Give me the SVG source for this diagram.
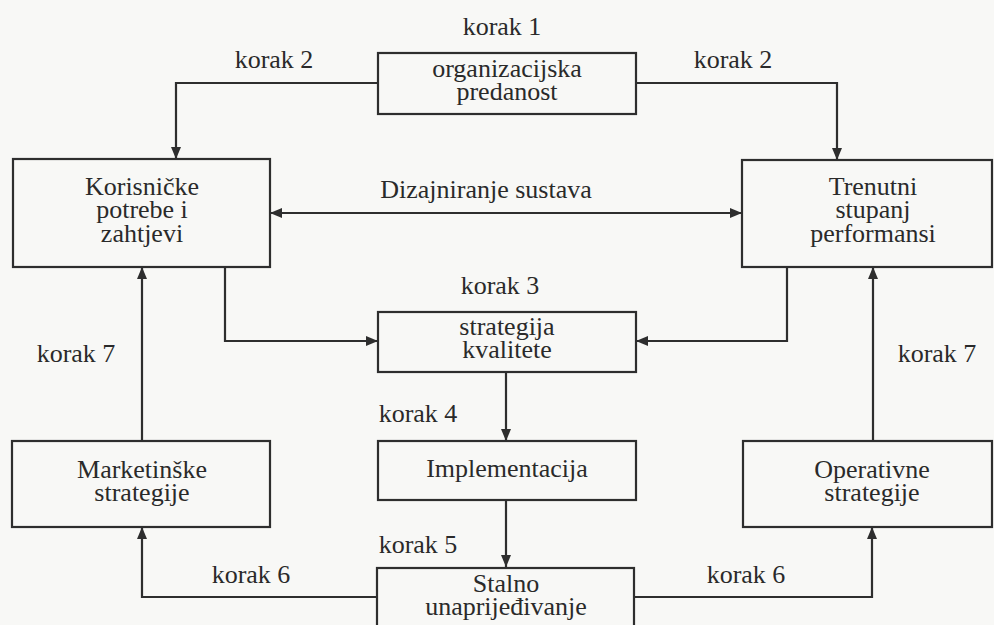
<svg xmlns="http://www.w3.org/2000/svg" width="994" height="625" viewBox="0 0 994 625">
<defs>
<marker id="ah" viewBox="0 0 12 10" refX="12" refY="5" markerWidth="12" markerHeight="10" markerUnits="userSpaceOnUse" orient="auto-start-reverse">
<path d="M0,0 L12,5 L0,10 Z" fill="#2e2e2e"/>
</marker>
<style>
.box{fill:none;stroke:#2e2e2e;stroke-width:2.2}
.ln{fill:none;stroke:#2e2e2e;stroke-width:2.2}
text{font-family:'Liberation Serif','Times New Roman',serif;font-size:26px;fill:#2a2a2a;text-anchor:middle}
</style>
</defs>
<rect width="994" height="625" fill="#f8f8f6"/>
<g id="connectors">
<path class="ln" d="M378,83 H176 V159" marker-end="url(#ah)"/>
<path class="ln" d="M636,83 H837 V160" marker-end="url(#ah)"/>
<path class="ln" d="M270,213 H742" marker-start="url(#ah)" marker-end="url(#ah)"/>
<path class="ln" d="M225,267 V341 H378" marker-end="url(#ah)"/>
<path class="ln" d="M787,267 V341 H636" marker-end="url(#ah)"/>
<path class="ln" d="M506,372 V441" marker-end="url(#ah)"/>
<path class="ln" d="M506,500 V567" marker-end="url(#ah)"/>
<path class="ln" d="M378,597 H142 V527" marker-end="url(#ah)"/>
<path class="ln" d="M634,597 H872 V527" marker-end="url(#ah)"/>
<path class="ln" d="M142,441 V267" marker-end="url(#ah)"/>
<path class="ln" d="M873,441 V267" marker-end="url(#ah)"/>
</g>
<g id="labels">
<text x="502" y="35">korak 1</text>
<text x="274" y="68">korak 2</text>
<text x="733" y="68">korak 2</text>
<text x="486" y="198">Dizajniranje sustava</text>
<text x="500" y="294">korak 3</text>
<text x="76" y="362">korak 7</text>
<text x="937" y="362">korak 7</text>
<text x="418" y="422">korak 4</text>
<text x="418" y="553">korak 5</text>
<text x="251" y="583">korak 6</text>
<text x="746" y="583">korak 6</text>
</g>
<g id="n-org">
<rect class="box" x="378" y="53" width="258" height="61"/>
<text x="507" y="77">organizacijska</text>
<text x="507" y="100">predanost</text>
</g>
<g id="n-kor">
<rect class="box" x="13" y="159" width="257" height="108"/>
<text x="142" y="195">Korisničke</text>
<text x="142" y="218">potrebe i</text>
<text x="142" y="242">zahtjevi</text>
</g>
<g id="n-tren">
<rect class="box" x="742" y="160" width="250" height="107"/>
<text x="873" y="195">Trenutni</text>
<text x="873" y="218">stupanj</text>
<text x="873" y="242">performansi</text>
</g>
<g id="n-strat">
<rect class="box" x="378" y="312" width="258" height="60"/>
<text x="507" y="335">strategija</text>
<text x="507" y="358">kvalitete</text>
</g>
<g id="n-impl">
<rect class="box" x="378" y="441" width="258" height="59"/>
<text x="507" y="477">Implementacija</text>
</g>
<g id="n-mark">
<rect class="box" x="12" y="441" width="258" height="86"/>
<text x="142" y="478">Marketinške</text>
<text x="142" y="501">strategije</text>
</g>
<g id="n-oper">
<rect class="box" x="743" y="441" width="249" height="86"/>
<text x="872" y="478">Operativne</text>
<text x="872" y="501">strategije</text>
</g>
<g id="n-stalno">
<rect class="box" x="377" y="568" width="257" height="70"/>
<text x="506" y="592">Stalno</text>
<text x="506" y="615">unaprijeđivanje</text>
</g>
</svg>
